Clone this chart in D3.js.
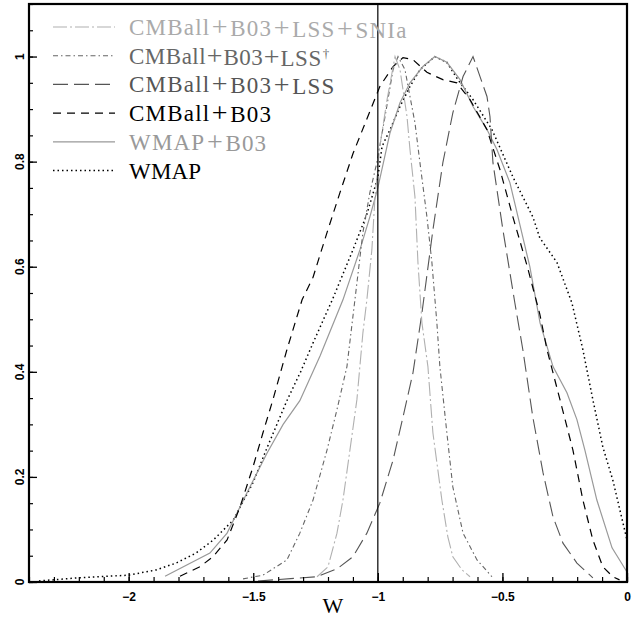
<!DOCTYPE html>
<html><head><meta charset="utf-8">
<script src="https://cdn.jsdelivr.net/npm/d3@7"></script>
<style>body{margin:0;background:#fff}svg{display:block}</style>
</head><body>
<script>
// ---- data ----
const xMajorTicks = [-2, -1.5, -1, -0.5, 0];
const xTickLabels = ["\u22122", "\u22121.5", "\u22121", "\u22120.5", "0"];
const yMajorTicks = [0, 0.2, 0.4, 0.6, 0.8, 1];
const yTickLabels = ["0", "0.2", "0.4", "0.6", "0.8", "1"];
const referenceW = -1;

const wmapW = [-2.36,-2.2,-2.0,-1.89,-1.81,-1.73,-1.66,-1.58,-1.50,-1.445,-1.365,-1.31,-1.26,-1.18,-1.10,-1.044,-1.0,-0.983,-0.951,-0.911,-0.871,-0.831,-0.771,-0.723,-0.679,-0.618,-0.542,-0.458,-0.378,-0.35,-0.281,-0.221,-0.177,-0.137,-0.097,-0.057,0];
const wmapP = [0.002,0.008,0.013,0.023,0.036,0.055,0.08,0.118,0.19,0.255,0.345,0.40,0.455,0.54,0.632,0.70,0.77,0.829,0.861,0.905,0.943,0.975,1.0,0.989,0.956,0.918,0.861,0.771,0.695,0.655,0.608,0.531,0.442,0.347,0.257,0.194,0.080];

const wmapB03W = [-1.854,-1.674,-1.605,-1.525,-1.445,-1.38,-1.313,-1.232,-1.14,-1.072,-1.032,-1.0,-0.951,-0.911,-0.871,-0.819,-0.771,-0.723,-0.67,-0.618,-0.562,-0.522,-0.47,-0.43,-0.39,-0.349,-0.297,-0.241,-0.201,-0.169,-0.121,-0.06,0];
const wmapB03P = [0.011,0.055,0.093,0.17,0.245,0.30,0.345,0.43,0.537,0.632,0.695,0.75,0.855,0.912,0.95,0.981,1.0,0.989,0.956,0.905,0.861,0.823,0.76,0.68,0.60,0.493,0.41,0.36,0.309,0.251,0.156,0.065,0.019];

const cmbB03W = [-1.794,-1.714,-1.662,-1.605,-1.553,-1.501,-1.461,-1.421,-1.365,-1.304,-1.26,-1.204,-1.152,-1.1,-0.992,-0.939,-0.899,-0.859,-0.803,-0.739,-0.683,-0.63,-0.562,-0.51,-0.458,-0.40,-0.35,-0.321,-0.269,-0.217,-0.177,-0.137,-0.097,-0.057,-0.03];
const cmbB03P = [0.011,0.029,0.048,0.08,0.143,0.219,0.284,0.347,0.442,0.537,0.58,0.665,0.741,0.815,0.943,0.981,0.998,0.994,0.97,0.956,0.95,0.918,0.861,0.785,0.695,0.60,0.51,0.442,0.347,0.251,0.156,0.08,0.029,0.01,0.004];

const lssW = [-1.481,-1.244,-1.164,-1.10,-1.044,-0.992,-0.939,-0.899,-0.859,-0.823,-0.779,-0.739,-0.699,-0.658,-0.618,-0.562,-0.55,-0.538,-0.498,-0.45,-0.418,-0.378,-0.337,-0.297,-0.257,-0.201,-0.137];
const lssP = [0.002,0.010,0.025,0.048,0.093,0.150,0.232,0.314,0.398,0.512,0.670,0.798,0.893,0.962,1.0,0.924,0.886,0.798,0.670,0.531,0.442,0.314,0.208,0.124,0.074,0.036,0.008];

const lssDagW = [-1.541,-1.461,-1.365,-1.313,-1.26,-1.204,-1.164,-1.124,-1.092,-1.060,-1.032,-1.004,-0.971,-0.939,-0.919,-0.891,-0.871,-0.851,-0.831,-0.803,-0.783,-0.763,-0.751,-0.723,-0.699,-0.658,-0.602,-0.542];
const lssDagP = [0.006,0.013,0.042,0.093,0.156,0.251,0.328,0.41,0.537,0.665,0.741,0.798,0.886,0.975,1.0,0.975,0.924,0.874,0.798,0.695,0.608,0.493,0.41,0.284,0.181,0.093,0.042,0.010];

const sniaW = [-1.244,-1.2,-1.164,-1.14,-1.112,-1.084,-1.06,-1.044,-1.024,-1.012,-0.992,-0.963,-0.931,-0.911,-0.899,-0.883,-0.871,-0.851,-0.839,-0.823,-0.799,-0.779,-0.743,-0.719,-0.699,-0.662,-0.63];
const sniaP = [0.010,0.029,0.093,0.156,0.251,0.347,0.474,0.537,0.632,0.728,0.829,0.918,1.0,0.975,0.937,0.886,0.823,0.733,0.608,0.493,0.41,0.284,0.156,0.086,0.048,0.023,0.010];

const seriesNames = ["CMBall+B03+LSS+SNIa", "CMBall+B03+LSS\u2020", "CMBall+B03+LSS", "CMBall+B03", "WMAP+B03", "WMAP"];

// ---- styles ----
const styles = [
  {color:"#b0b0b0", dash:"14,3,2,3", width:1.1, text:"#aaaaaa", ls:1.2, pad:1.5},
  {color:"#666666", dash:"5,3,1.5,3", width:1.1, text:"#666666", ls:0.5, pad:0.5},
  {color:"#555555", dash:"15,6", width:1.1, text:"#555555", ls:1.2, pad:1.5},
  {color:"#000000", dash:"8,6", width:1.2, text:"#000000", ls:1.2, pad:1.5},
  {color:"#999999", dash:null, width:1.2, text:"#999999", ls:1.2, pad:1.5},
  {color:"#000000", dash:"1.5,3", width:1.5, text:"#000000", ls:0.2, pad:1.5}
];
const seriesData = [[sniaW,sniaP],[lssDagW,lssDagP],[lssW,lssP],[cmbB03W,cmbB03P],[wmapB03W,wmapB03P],[wmapW,wmapP]];

const W = 639, H = 619;
const L = 29, R = 627, T = 4, B = 582;
const svg = d3.select("body").append("svg").attr("width", W).attr("height", H);

const x = d3.scaleLinear().domain([-2.4, 0]).range([L, R]);
const y = d3.scaleLinear().domain([0, 1.1]).range([B, T]);

const g = svg.append("g");
const line = d3.line().x(d => x(d[0])).y(d => y(d[1]));

for (let i = seriesData.length - 1; i >= 0; i--) {
  const [ws, ps] = seriesData[i];
  const pts = ws.map((w, k) => [w, ps[k]]);
  const st = styles[i];
  g.append("path").attr("d", line(pts)).attr("fill", "none")
    .attr("stroke", st.color).attr("stroke-width", st.width)
    .attr("stroke-dasharray", st.dash);
}

// vertical reference line
g.append("line").attr("x1", x(referenceW)).attr("x2", x(referenceW))
  .attr("y1", y(0)).attr("y2", y(1.1)).attr("stroke", "#000").attr("stroke-width", 1.2);

// x axis ticks (inward)
const xMinor = d3.range(-2.4, 0.001, 0.1).map(v => Math.round(v * 10) / 10);
svg.append("g").attr("transform", `translate(0,${B})`)
  .call(d3.axisBottom(x).tickValues(xMinor).tickSize(-5).tickFormat(""))
  .call(s => s.select(".domain").remove())
  .call(s => s.selectAll("line").attr("stroke", "#000").attr("stroke-width", 1.2));
svg.append("g").attr("transform", `translate(0,${B})`)
  .call(d3.axisBottom(x).tickValues(xMajorTicks).tickSize(-9).tickFormat((d, i) => xTickLabels[i]))
  .call(s => s.select(".domain").remove())
  .call(s => s.selectAll("line").attr("stroke", "#000").attr("stroke-width", 1.3))
  .call(s => s.selectAll("text").attr("y", 19).attr("dy", 0)
      .attr("font-family", "Liberation Sans, Arial, sans-serif").attr("font-size", 12)
      .attr("font-weight", "bold").attr("fill", "#000"));

// y axis ticks (inward)
const yMinor = d3.range(0, 1.1001, 0.05).map(v => Math.round(v * 100) / 100);
svg.append("g").attr("transform", `translate(${L},0)`)
  .call(d3.axisLeft(y).tickValues(yMinor).tickSize(-4).tickFormat(""))
  .call(s => s.select(".domain").remove())
  .call(s => s.selectAll("line").attr("stroke", "#000").attr("stroke-width", 1.2));
svg.append("g").attr("transform", `translate(${L},0)`)
  .call(d3.axisLeft(y).tickValues(yMajorTicks).tickSize(-8).tickFormat(""))
  .call(s => s.select(".domain").remove())
  .call(s => s.selectAll("line").attr("stroke", "#000").attr("stroke-width", 1.3));
svg.append("g").selectAll("text").data(yMajorTicks).join("text")
  .attr("transform", d => `translate(23.5,${y(d)}) rotate(-90)`)
  .attr("text-anchor", "middle")
  .attr("font-family", "Liberation Sans, Arial, sans-serif").attr("font-size", 12)
  .attr("font-weight", "bold")
  .text((d, i) => yTickLabels[i]);

// frame
svg.append("rect").attr("x", L).attr("y", T).attr("width", R - L).attr("height", B - T)
  .attr("fill", "none").attr("stroke", "#000").attr("stroke-width", 2.2);

// x label
svg.append("text").attr("x", 333).attr("y", 613).attr("text-anchor", "middle")
  .attr("font-family", "Liberation Serif, Times New Roman, serif").attr("font-size", 22)
  .text("W");

// legend
const leg = svg.append("g");
seriesNames.forEach((name, i) => {
  const cy = 27 + i * 28.7;
  const st = styles[i];
  leg.append("line").attr("x1", 53).attr("x2", 115).attr("y1", cy).attr("y2", cy)
    .attr("stroke", st.color).attr("stroke-width", st.width).attr("stroke-dasharray", st.dash);
  const t = leg.append("text").attr("x", 129).attr("y", cy + 8)
    .attr("font-family", "Liberation Serif, Times New Roman, serif").attr("font-size", 23)
    .attr("letter-spacing", st.ls).attr("fill", st.text);
  const parts = name.split(/(\+|\u2020)/).filter(p => p.length);
  parts.forEach((p, k) => {
    if (p === "+") {
      t.append("tspan").attr("dx", st.pad).attr("font-size", 28).attr("dy", 1).text("+");
      t.append("tspan").attr("dy", -1).text("");
    } else if (p === "\u2020") {
      t.append("tspan").attr("font-size", 13).attr("dy", -8).attr("dx", 1).text(p);
    } else {
      t.append("tspan").attr("dx", k === 0 ? 0 : st.pad).text(p);
    }
  });
});
</script>
</body></html>
